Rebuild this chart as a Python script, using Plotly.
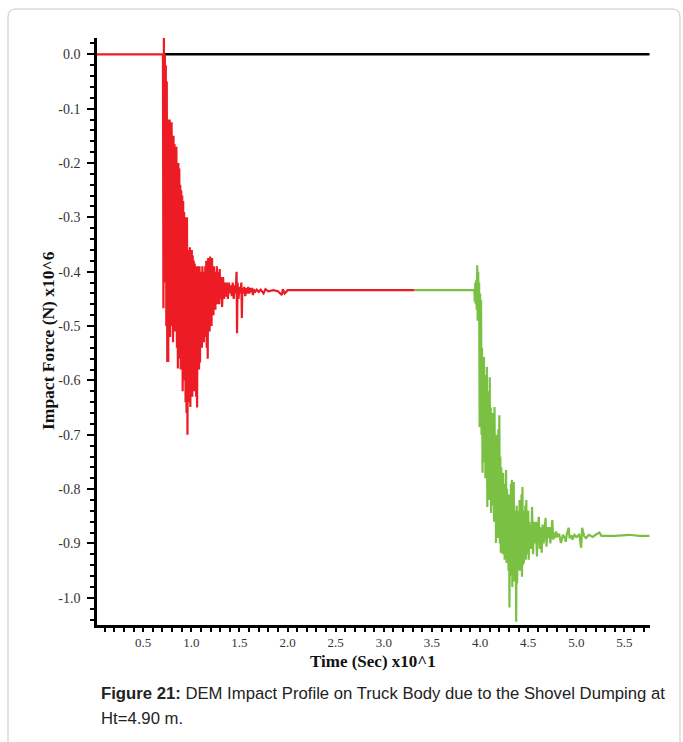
import plotly.graph_objects as go

# ---------------- data ----------------
# Time axis in units of 10^1 s, force in units of 10^6 N
red_t = [0.00, 0.700,
         0.705, 0.710, 0.715, 0.720, 0.725, 0.730, 0.735, 0.740, 0.745, 0.750,
         0.755, 0.760, 0.765, 0.770, 0.775, 0.780, 0.785, 0.790, 0.795, 0.800,
         0.805, 0.810, 0.815, 0.820, 0.825, 0.830, 0.835, 0.840, 0.845, 0.850,
         0.855, 0.860, 0.865, 0.870, 0.875, 0.880, 0.885, 0.890, 0.895, 0.900,
         0.905, 0.910, 0.915, 0.920, 0.925, 0.930, 0.935, 0.940, 0.945, 0.950,
         0.955, 0.960, 0.965, 0.970, 0.975, 0.980, 0.985, 0.990, 0.995, 1.000,
         1.005, 1.010, 1.015, 1.020, 1.025, 1.030, 1.035, 1.040, 1.045, 1.050,
         1.055, 1.060, 1.065, 1.070, 1.075, 1.080, 1.085, 1.090, 1.095, 1.100,
         1.105, 1.110, 1.115, 1.120, 1.125, 1.130, 1.135, 1.140, 1.145, 1.150,
         1.155, 1.160, 1.165, 1.170, 1.175, 1.180, 1.185, 1.190, 1.195, 1.200,
         1.205, 1.210, 1.215, 1.220, 1.225, 1.230, 1.235, 1.240, 1.245, 1.250,
         1.255, 1.260, 1.265, 1.270, 1.275, 1.280, 1.285, 1.290, 1.295, 1.300,
         1.31, 1.32, 1.33, 1.34, 1.35, 1.36, 1.37, 1.38, 1.39, 1.40,
         1.41, 1.42, 1.43, 1.44, 1.45, 1.46, 1.47, 1.475, 1.48, 1.49,
         1.50, 1.51, 1.52, 1.525, 1.53, 1.54, 1.55, 1.56, 1.57, 1.58,
         1.59, 1.60, 1.61, 1.62, 1.63, 1.64, 1.65, 1.66, 1.68, 1.70,
         1.72, 1.75, 1.77, 1.80, 1.85, 1.90, 1.94, 1.95, 1.97, 2.00,
         3.32]
red_f = [0.0, 0.0,
         0.0, -0.467, 0.03, -0.30, 0.0, -0.42, -0.02, -0.50, -0.05, -0.566,
         -0.12, -0.566, -0.13, -0.48, -0.12, -0.52, -0.14, -0.45, -0.125, -0.50,
         -0.16, -0.53, -0.15, -0.47, -0.165, -0.51, -0.18, -0.49, -0.17, -0.54,
         -0.22, -0.578, -0.20, -0.52, -0.21, -0.56, -0.24, -0.58, -0.25, -0.55,
         -0.26, -0.62, -0.27, -0.59, -0.29, -0.60, -0.30, -0.64, -0.31, -0.66,
         -0.30, -0.70, -0.36, -0.60, -0.37, -0.64, -0.355, -0.649, -0.38, -0.60,
         -0.36, -0.63, -0.37, -0.59, -0.38, -0.62, -0.385, -0.57, -0.39, -0.63,
         -0.40, -0.65, -0.39, -0.55, -0.40, -0.58, -0.39, -0.567, -0.41, -0.52,
         -0.40, -0.54, -0.39, -0.51, -0.40, -0.53, -0.41, -0.50, -0.39, -0.52,
         -0.38, -0.54, -0.385, -0.56, -0.375, -0.49, -0.38, -0.51, -0.372, -0.48,
         -0.39, -0.50, -0.375, -0.47, -0.40, -0.48, -0.39, -0.46, -0.41, -0.47,
         -0.40, -0.45, -0.39, -0.46, -0.40, -0.45, -0.41, -0.46, -0.395, -0.45,
         -0.41, -0.465, -0.41, -0.45, -0.42, -0.446, -0.42, -0.45, -0.42, -0.44,
         -0.425, -0.445, -0.42, -0.45, -0.425, -0.44, -0.40, -0.513, -0.42, -0.45,
         -0.428, -0.44, -0.42, -0.485, -0.43, -0.44, -0.428, -0.445, -0.43, -0.44,
         -0.428, -0.44, -0.43, -0.438, -0.43, -0.443, -0.432, -0.438, -0.433, -0.437,
         -0.433, -0.44, -0.432, -0.436, -0.434, -0.436, -0.443, -0.432, -0.44, -0.434,
         -0.434]

green_t = [3.32, 3.94,
           3.945, 3.950, 3.955, 3.960, 3.965, 3.970, 3.975, 3.980, 3.985, 3.990,
           3.995, 4.000, 4.005, 4.010, 4.015, 4.020, 4.025, 4.030, 4.035, 4.040,
           4.045, 4.050, 4.055, 4.060, 4.065, 4.070, 4.075, 4.080, 4.085, 4.090,
           4.095, 4.100, 4.105, 4.110, 4.115, 4.120, 4.125, 4.130, 4.135, 4.140,
           4.145, 4.150, 4.155, 4.160, 4.165, 4.170, 4.175, 4.180, 4.185, 4.190,
           4.195, 4.200, 4.205, 4.210, 4.215, 4.220, 4.225, 4.230, 4.235, 4.240,
           4.245, 4.250, 4.255, 4.260, 4.265, 4.270, 4.275, 4.280, 4.285, 4.290,
           4.295, 4.300, 4.305, 4.310, 4.315, 4.320, 4.325, 4.330, 4.335, 4.340,
           4.345, 4.350, 4.355, 4.360, 4.365, 4.370, 4.375, 4.380, 4.385, 4.390,
           4.395, 4.400, 4.405, 4.410, 4.415, 4.420, 4.425, 4.430, 4.435, 4.440,
           4.445, 4.450, 4.455, 4.460, 4.465, 4.470, 4.475, 4.480, 4.485, 4.490,
           4.495, 4.500, 4.505, 4.510,
           4.52, 4.53, 4.54, 4.55, 4.56, 4.57, 4.58, 4.59, 4.60, 4.61,
           4.62, 4.63, 4.64, 4.65, 4.66, 4.67, 4.68, 4.69, 4.70, 4.71,
           4.72, 4.73, 4.74, 4.75, 4.76, 4.77, 4.78, 4.79, 4.80, 4.82,
           4.84, 4.86, 4.88, 4.89, 4.90, 4.92, 4.93, 4.95, 4.96, 4.98,
           5.00, 5.03, 5.05, 5.06, 5.08, 5.10, 5.13, 5.17, 5.20, 5.24,
           5.26, 5.40, 5.55, 5.65, 5.76]
green_f = [-0.434, -0.434,
           -0.455, -0.42, -0.46, -0.415, -0.47, -0.388, -0.49, -0.40, -0.46, -0.42,
           -0.686, -0.44, -0.60, -0.452, -0.70, -0.54, -0.77, -0.56, -0.72, -0.557,
           -0.75, -0.59, -0.78, -0.60, -0.76, -0.575, -0.833, -0.62, -0.80, -0.63,
           -0.82, -0.594, -0.79, -0.65, -0.844, -0.66, -0.81, -0.68, -0.83, -0.66,
           -0.86, -0.649, -0.84, -0.70, -0.899, -0.72, -0.87, -0.70, -0.89, -0.69,
           -0.88, -0.664, -0.90, -0.74, -0.917, -0.76, -0.89, -0.78, -0.92, -0.77,
           -0.90, -0.80, -0.93, -0.79, -0.91, -0.765, -0.936, -0.80, -0.92, -0.82,
           -0.95, -0.81, -1.018, -0.83, -0.94, -0.79, -0.96, -0.783, -0.98, -0.82,
           -0.95, -0.787, -0.97, -0.84, -0.96, -0.85, -1.044, -0.83, -0.973, -0.85,
           -0.95, -0.84, -0.94, -0.82, -0.95, -0.83, -0.93, -0.81, -0.961, -0.796,
           -0.94, -0.84, -0.936, -0.85, -0.92, -0.83, -0.93, -0.82, -0.92, -0.85,
           -0.91, -0.84, -0.93, -0.86,
           -0.90, -0.91, -0.833, -0.92, -0.86, -0.90, -0.86, -0.924, -0.87, -0.851,
           -0.91, -0.87, -0.917, -0.865, -0.90, -0.87, -0.853, -0.906, -0.87, -0.89,
           -0.87, -0.90, -0.875, -0.857, -0.893, -0.88, -0.89, -0.878, -0.888, -0.882,
           -0.899, -0.884, -0.89, -0.897, -0.884, -0.871, -0.89, -0.885, -0.893, -0.884,
           -0.888, -0.884, -0.908, -0.871, -0.886, -0.89, -0.884, -0.888, -0.884, -0.88,
           -0.886, -0.886, -0.884, -0.886, -0.886]

zero_t = [0.72, 5.76]
zero_f = [0.0, 0.0]

x_tick_vals = [0.5, 1.0, 1.5, 2.0, 2.5, 3.0, 3.5, 4.0, 4.5, 5.0, 5.5]
x_tick_text = ["0.5", "1.0", "1.5", "2.0", "2.5", "3.0", "3.5", "4.0", "4.5", "5.0", "5.5"]
y_tick_vals = [0.0, -0.1, -0.2, -0.3, -0.4, -0.5, -0.6, -0.7, -0.8, -0.9, -1.0]
y_tick_text = ["0.0", "-0.1", "-0.2", "-0.3", "-0.4", "-0.5", "-0.6", "-0.7", "-0.8", "-0.9", "-1.0"]

x_title = "<b>Time (Sec) x10^1</b>"
y_title = "<b>Impact Force (N) x10^6</b>"
caption_line1 = "<b>Figure 21:</b> DEM Impact Profile on Truck Body due to the Shovel Dumping at"
caption_line2 = "Ht=4.90 m."

# ---------------- figure ----------------
W, H = 683, 742
L, R, T, B = 97, 33, 38, 117
pw, ph = W - L - R, H - T - B

def px_x(px):
    return (px - L) / pw

def px_y(py):
    return 1 - (py - T) / ph

fig = go.Figure()
fig.add_trace(go.Scatter(x=zero_t, y=zero_f, mode="lines",
                         line=dict(color="#000000", width=2.5), hoverinfo="skip"))
fig.add_trace(go.Scatter(x=red_t, y=red_f, mode="lines",
                         line=dict(color="#ED1C24", width=2.2), hoverinfo="skip"))
fig.add_trace(go.Scatter(x=green_t, y=green_f, mode="lines",
                         line=dict(color="#7AC143", width=2.2), hoverinfo="skip"))

serif = "Liberation Serif, Times New Roman, serif"
xtickfont = dict(family=serif, size=13, color="#333333")
ytickfont = dict(family=serif, size=14, color="#333333")

fig.update_xaxes(range=[0.02, 5.765], showgrid=False, zeroline=False,
                 showline=True, linecolor="black", linewidth=2.5,
                 tickmode="array", tickvals=x_tick_vals, ticktext=x_tick_text,
                 ticks="outside", ticklen=4, tickwidth=1.5, tickcolor="black",
                 minor=dict(tickmode="linear", tick0=0, dtick=0.1, ticks="outside",
                            ticklen=4, tickwidth=1.5, tickcolor="black"),
                 tickfont=xtickfont)
fig.update_yaxes(range=[-1.05, 0.03], showgrid=False, zeroline=False,
                 showline=True, linecolor="black", linewidth=2.5,
                 tickmode="array", tickvals=y_tick_vals, ticktext=y_tick_text,
                 ticks="outside", ticklen=7, tickwidth=1.5, tickcolor="black",
                 minor=dict(tickmode="linear", tick0=0, dtick=0.02, ticks="outside",
                            ticklen=4, tickwidth=1.5, tickcolor="black"),
                 tickfont=ytickfont, ticklabelstandoff=4)

# axis titles
fig.add_annotation(xref="paper", yref="paper", x=px_x(373), y=px_y(661),
                   xanchor="center", yanchor="middle", showarrow=False,
                   text=x_title, font=dict(family=serif, size=17, color="#111111"))
fig.add_annotation(xref="paper", yref="paper", x=px_x(48), y=px_y(341),
                   xanchor="center", yanchor="middle", showarrow=False, textangle=-90,
                   text=y_title, font=dict(family=serif, size=17.5, color="#111111"))

# rounded border of the figure panel
x0, x1 = px_x(8), px_x(680)
y0, y1 = px_y(760), px_y(9)
rx, ry = 8 / pw, 8 / ph
path = (f"M {x0},{y0} L {x0},{y1 - ry} Q {x0},{y1} {x0 + rx},{y1} "
        f"L {x1 - rx},{y1} Q {x1},{y1} {x1},{y1 - ry} L {x1},{y0}")
fig.add_shape(type="path", path=path, xref="paper", yref="paper",
              line=dict(color="#C8C8C8", width=1), layer="below")

capfont = dict(family="Liberation Sans, Arial, sans-serif", size=16.7, color="#222222")
fig.add_annotation(xref="paper", yref="paper", x=px_x(99), y=px_y(693),
                   xanchor="left", yanchor="middle", align="left", showarrow=False,
                   text=caption_line1, font=capfont)
fig.add_annotation(xref="paper", yref="paper", x=px_x(99), y=px_y(718),
                   xanchor="left", yanchor="middle", align="left", showarrow=False,
                   text=caption_line2, font=capfont)

fig.update_layout(width=W, height=H, margin=dict(l=L, r=R, t=T, b=B),
                  paper_bgcolor="white", plot_bgcolor="white", showlegend=False)

fig.write_html("out.html")
